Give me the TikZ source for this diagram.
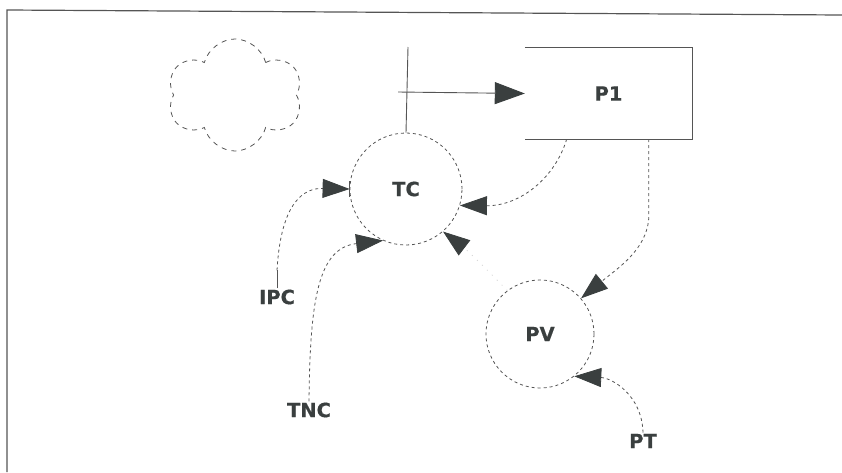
\documentclass[tikz,border=0pt]{standalone}
\usepackage{fontspec}
\setmainfont{DejaVu Sans}[FakeBold=0.6]
\usetikzlibrary{arrows.meta,shapes.symbols,calc}
\definecolor{ink}{HTML}{3A3F3F}
\definecolor{ln}{HTML}{555555}
\tikzset{
  lbl/.style={font=\fontsize{19.5}{21}\selectfont\bfseries, text=ink, inner sep=1pt},
  circ/.style={circle, draw=ln, line width=0.8pt, dash pattern=on 3pt off 3pt, font=\fontsize{19.5}{21}\selectfont\bfseries, text=ink},
  conn/.style={draw=ln, line width=0.8pt, dash pattern=on 3pt off 3pt},
  bigtip/.style={-{Triangle[length=27pt,width=19pt,fill=ink,color=ink]}},
  hugetip/.style={-{Triangle[length=30pt,width=22pt,fill=ink,color=ink]}},
  solidln/.style={draw=ln, line width=0.9pt}
}
\begin{document}
\begin{tikzpicture}[x=1pt,y=-1pt]
\useasboundingbox (0,0) rectangle (842,472);
% frame
\draw[solidln, line width=1.2pt] (7,472) -- (7,10) -- (842,15);
% cloud
\node[cloud, cloud puffs=6, aspect=1.2, draw=ln, line width=0.8pt, dash pattern=on 5pt off 5pt, minimum width=135pt, minimum height=112pt] (cloud) at (235,95) {};
% nodes
\node[circ, minimum size=112pt] (TC) at (406,189) {TC};
\node[circ, minimum size=108pt] (PV) at (540,334) {PV};
\node[minimum width=167pt, minimum height=91pt, inner sep=0pt, lbl] (P1) at (608.5,93.5) {P1};
\draw[solidln] (P1.north west) -- (P1.north east) -- (P1.south east) -- (P1.south west);
\node[lbl] (IPC) at (277,297) {IPC};
\node[lbl] (TNC) at (309,410) {TNC};
\node[lbl] (PT) at (643,441) {PT};
% coordinates
\coordinate (vtop) at (408,47);
\coordinate (hstart) at (398,92);
\coordinate (p1a) at ($(P1.south west)!0.25!(P1.south east)$);
\coordinate (p1b) at ($(P1.south west)!0.74!(P1.south east)$);
% vertical line and arrow to P1
\draw[solidln] (vtop) -- (TC.north);
\draw[solidln, hugetip] (hstart) -- (P1.west);
% IPC -> TC
\draw[solidln] (IPC.north) -- ++(0,-18) coordinate (ipcup);
\draw[conn, bigtip] (ipcup) .. controls (281,200) and (305,188) .. (TC.west);
\draw[solidln] ($(TC.west)+(0,-8)$) -- ($(TC.west)+(0,8)$);
% TNC -> TC
\draw[conn, bigtip] (TNC.north) .. controls (310,300) and (318,248) .. (TC.246);
% P1 -> TC
\draw[conn, bigtip] (p1a) .. controls (555,178) and (520,206) .. (TC.-17);
% P1 -> PV
\draw[conn, bigtip] (p1b) -- ++(0,80) .. controls (646,250) and (618,268) .. (PV.41);
% PT -> PV
\draw[conn, bigtip] (PT.north) .. controls (642,395) and (612,378) .. (PV.-51);
% PV -> TC (faint)
\draw[conn, draw=ln!25, dash pattern=on 1pt off 6pt, bigtip] (PV.127) .. controls (480,262) and (462,246) .. (TC.-49);
\end{tikzpicture}
\end{document}
